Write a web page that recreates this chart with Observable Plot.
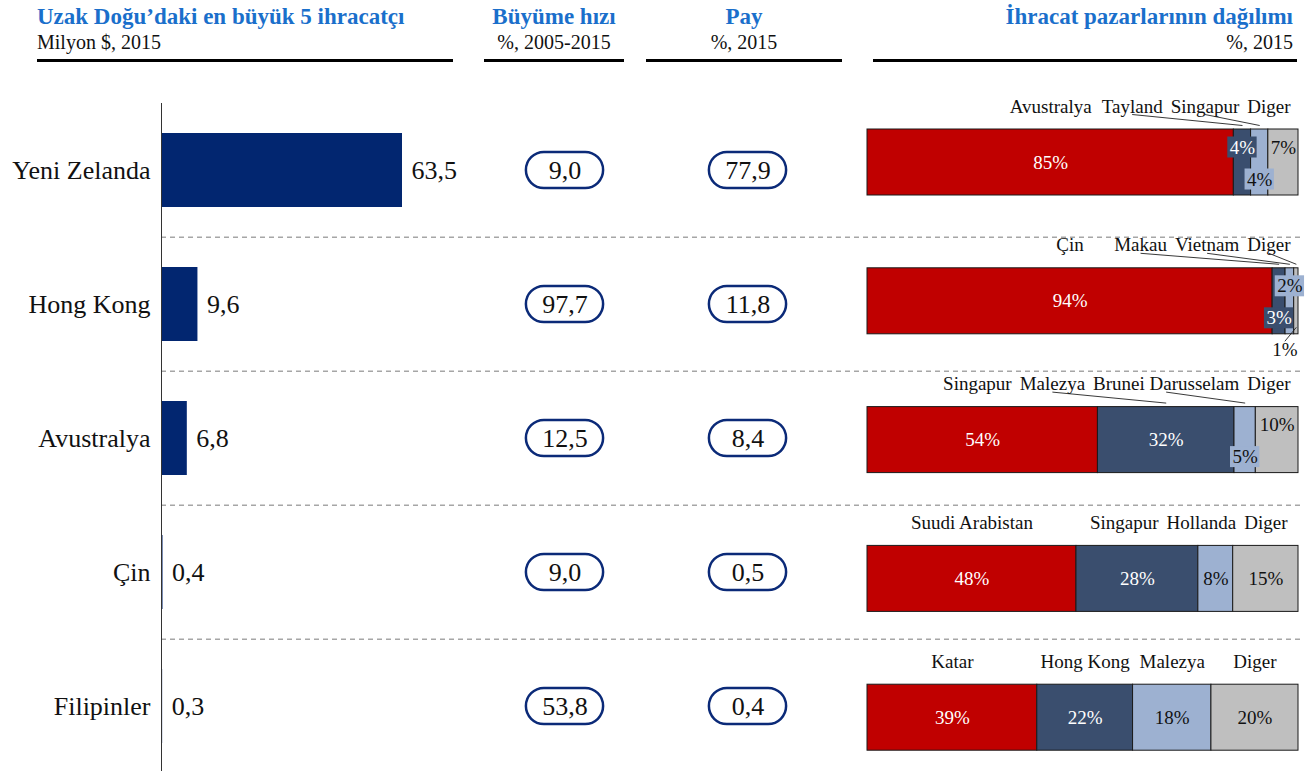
<!DOCTYPE html>
<html><head><meta charset="utf-8">
<script src="https://cdn.jsdelivr.net/npm/d3@7"></script>
<script src="https://cdn.jsdelivr.net/npm/@observablehq/plot@0.6"></script>
<style>
html,body{margin:0;padding:0;background:#fff;overflow:hidden;}
#wrap{position:relative;width:1311px;height:771px;font-family:"Liberation Serif",serif;color:#111;}
#head{position:relative;height:70px;}
.hd{position:absolute;top:0;height:70px;}
.t{position:absolute;left:0;right:0;top:4px;color:#1A6FCB;font-weight:bold;font-size:23px;line-height:26px;white-space:nowrap;}
.s{position:absolute;left:0;right:0;top:29px;font-size:20px;line-height:26px;white-space:nowrap;}
.u{position:absolute;top:59px;height:3px;background:#000;}
.chart{position:absolute;left:0;top:70px;}
</style></head>
<body><div id="wrap">
<div id="head">
  <div class="hd" style="left:37px;width:416px;"><div class="t">Uzak Doğu’daki en büyük 5 ihracatçı</div><div class="s">Milyon $, 2015</div></div>
  <div class="u" style="left:37px;width:416px;"></div>
  <div class="hd" style="left:484px;width:140px;text-align:center;"><div class="t">Büyüme hızı</div><div class="s">%, 2005-2015</div></div>
  <div class="u" style="left:484px;width:140px;"></div>
  <div class="hd" style="left:646px;width:196px;text-align:center;"><div class="t">Pay</div><div class="s">%, 2015</div></div>
  <div class="u" style="left:646px;width:196px;"></div>
  <div class="hd" style="left:873px;width:420px;text-align:right;"><div class="t">İhracat pazarlarının dağılımı</div><div class="s">%, 2015</div></div>
  <div class="u" style="left:873px;width:424px;"></div>
</div>
<div class="chart" id="c3"></div>
<div class="chart" id="c2"></div>
<div class="chart" id="c1"></div>
</div>
<script>
// ---- data ----
const countries = ["Yeni Zelanda", "Hong Kong", "Avustralya", "Çin", "Filipinler"];
const exports2015 = [63.5, 9.6, 6.8, 0.4, 0.3];
const growth = [9.0, 97.7, 12.5, 9.0, 53.8];
const share = [77.9, 11.8, 8.4, 0.5, 0.4];
const marketNames = [
  ["Avustralya", "Tayland", "Singapur", "Diger"],
  ["Çin", "Makau", "Vietnam", "Diger"],
  ["Singapur", "Malezya", "Brunei Darusselam", "Diger"],
  ["Suudi Arabistan", "Singapur", "Hollanda", "Diger"],
  ["Katar", "Hong Kong", "Malezya", "Diger"]
];
const marketShares = [
  [85, 4, 4, 7],
  [94, 3, 2, 1],
  [54, 32, 5, 10],
  [48, 28, 8, 15],
  [39, 22, 18, 20]
];
// label placement hints (style)
const labelSpot = [
  ["mid", "upBox", "downBox", "up"],
  ["mid", "downBox", "upBox", "below"],
  ["mid", "mid", "downBox", "up"],
  ["mid", "mid", "mid", "mid"],
  ["mid", "mid", "mid", "mid"]
];
const segColors = ["#C00000", "#3A4E6E", "#9DB1D1", "#BFBFBF"];

const fmt = v => v.toFixed(1).replace(".", ",");
const H = 701;
const FONT = "Liberation Serif";
const baseStyle = {background: "transparent", fontFamily: FONT, overflow: "visible"};

// ---- left bar chart ----
const rows = countries.map((c, i) => ({country: c, value: exports2015[i], growth: growth[i], share: share[i]}));
const stepL = 134.75;
const yLeft = {type: "band", domain: countries, range: [30.7, 30.7 + 5 * stepL], padding: 0, axis: null};

const p1 = Plot.plot({
  width: 1311, height: H, marginLeft: 161, marginRight: 11, marginTop: 33, marginBottom: 0,
  style: baseStyle,
  x: {domain: [0, 63.5], range: [161, 402], axis: null},
  y: yLeft,
  marks: [
    Plot.ruleY(countries.slice(1), {y: d => d, dy: -stepL / 2, stroke: "#A6A6A6", strokeWidth: 1.5, strokeDasharray: "5,4"}),
    Plot.barX(rows, {x: "value", y: "country", fill: "#022670", insetTop: 30, insetBottom: 30}),
    Plot.ruleX([0], {stroke: "#333", strokeWidth: 1}),
    Plot.text(rows, {x: "value", y: "country", text: d => fmt(d.value), dx: 9, textAnchor: "start", fontSize: 26, fill: "#111"}),
    Plot.text(rows, {x: 0, y: "country", text: "country", dx: -11, textAnchor: "end", fontSize: 26, fill: "#111"})
  ]
});
document.getElementById("c1").appendChild(p1);

// ---- pills ----
const pills = rows.flatMap(r => [{country: r.country, col: "g", v: r.growth}, {country: r.country, col: "s", v: r.share}]);
const p2 = Plot.plot({
  width: 1311, height: H, margin: 0,
  style: baseStyle,
  x: {type: "band", domain: ["g", "s"], range: [471.75, 839.25], padding: 0, axis: null},
  y: yLeft,
  marks: [
    Plot.cell(pills, {x: "col", y: "country", fill: "white", stroke: "#0B2A78", strokeWidth: 2.5, rx: 18,
      insetLeft: 52.9, insetRight: 52.9, insetTop: 48.9, insetBottom: 48.9}),
    Plot.text(pills, {x: "col", y: "country", text: d => fmt(d.v), fontSize: 26, fill: "#111"})
  ]
});
document.getElementById("c2").appendChild(p2);

// ---- stacked market bars ----
const S = 138.8, BW = 431, X0 = 867;
const ctx = document.createElement("canvas").getContext("2d");
ctx.font = `19px "${FONT}"`;
const tw = s => ctx.measureText(s).width;
const segs = [], leaders = [], boxes = [], inner = [];
countries.forEach((c, i) => {
  const vals = marketShares[i], total = d3.sum(vals);
  let cum = 0;
  const rs = vals.map((v, k) => {
    const s = {row: i, k, name: marketNames[i][k], v, x1: cum / total, x2: (cum + v) / total};
    cum += v; s.cx = (s.x1 + s.x2) / 2; return s;
  });
  // category labels: centered on segments, pushed left to avoid overlap
  let limit = (1290 - X0) / BW;
  for (let k = 3; k >= 0; k--) {
    const s = rs[k], w = tw(s.name) / BW;
    const right = Math.min(s.cx + w / 2, limit);
    s.lx = right - w / 2;
    limit = right - w - 8 / BW;
    if (Math.abs(s.lx - s.cx) > 20 / BW) leaders.push({x1: s.lx, y1: i - 48 / S, x2: s.cx, y2: i - 37 / S});
  }
  rs.forEach((s, k) => {
    const spot = labelSpot[i][k];
    const txt = s.v + "%";
    const w = tw(txt);
    const off = {mid: 0, up: -15, upBox: -15, downBox: 17, below: 49}[spot];
    let x = s.cx;
    if (spot === "below") {
      x = Math.min(s.cx, 1 - (w / 2 + 1) / BW);
      leaders.push({x1: s.cx, y1: i + 26 / S, x2: x, y2: i + 40 / S});
    }
    const fill = (spot === "up" || spot === "below") ? "#111" : (k < 2 ? "white" : "#111");
    inner.push({x, y: i + off / S, text: txt, fill});
    if (spot === "upBox" || spot === "downBox") {
      boxes.push({x1: s.cx - (w + 4) / 2 / BW, x2: s.cx + (w + 4) / 2 / BW, y1: i + (off - 10.5) / S, y2: i + (off + 10.5) / S, fill: segColors[k]});
    }
  });
  segs.push(...rs);
});

const top0 = 92 - S / 2;
const p3 = Plot.plot({
  width: 1311, height: H, margin: 0,
  style: baseStyle,
  x: {domain: [0, 1], range: [X0, X0 + BW], axis: null},
  y: {domain: [-0.5, 4.5], range: [top0, top0 + 5 * S], axis: null},
  color: {type: "identity"},
  marks: [
    Plot.rect(segs, {x1: "x1", x2: "x2", y1: d => d.row - 33 / S, y2: d => d.row + 33 / S, fill: d => segColors[d.k], stroke: "#1a1a1a", strokeWidth: 1}),
    Plot.rect(boxes, {x1: "x1", x2: "x2", y1: "y1", y2: "y2", fill: "fill"}),
    Plot.text(inner, {x: "x", y: "y", text: "text", fill: "fill", fontSize: 19}),
    Plot.text(segs, {x: "lx", y: d => d.row - 56 / S, text: "name", fontSize: 19, fill: "#111"}),
    Plot.link(leaders, {x1: "x1", y1: "y1", x2: "x2", y2: "y2", stroke: "#222", strokeWidth: 0.9})
  ]
});
document.getElementById("c3").appendChild(p3);
</script>
</body></html>
